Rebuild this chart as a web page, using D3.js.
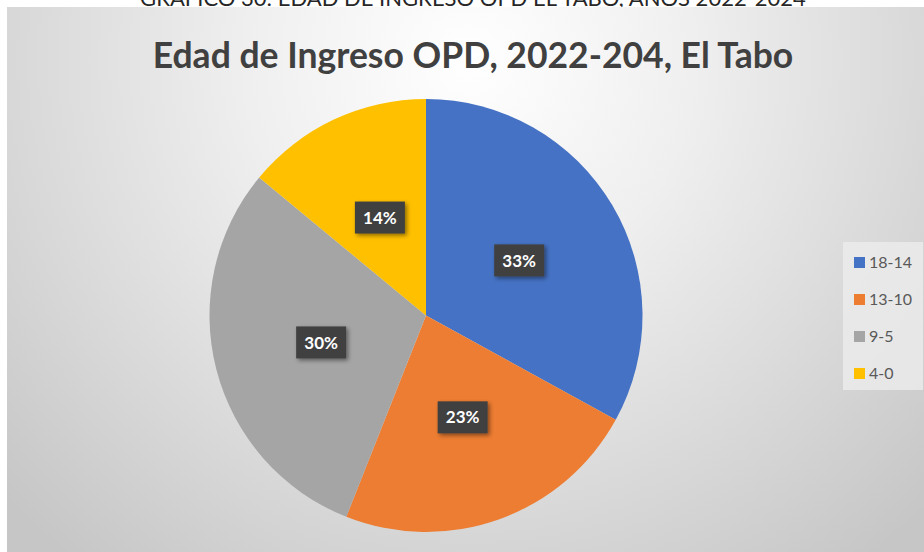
<!DOCTYPE html>
<html>
<head>
<meta charset="utf-8">
<script src="https://cdn.jsdelivr.net/npm/d3@7/dist/d3.min.js"></script>
<style>
  html, body { margin: 0; padding: 0; background: #ffffff; }
  svg { display: block; }
</style>
</head>
<body>
<svg id="chart" width="924" height="552"></svg>
<script>
// Age groups at intake and their share of cases (%)
const categories = ["18-14", "13-10", "9-5", "4-0"];
const shares = [33, 23, 30, 14];
const colors = ["#4472c4", "#ed7d31", "#a5a5a5", "#ffc000"];

const caption = "GRÁFICO 30: EDAD DE INGRESO OPD EL TABO, AÑOS 2022-2024";
const title = "Edad de Ingreso OPD, 2022-204, El Tabo";

const W = 924, H = 552;
const svg = d3.select("#chart");
const defs = svg.append("defs");

// Soft radial background of the chart area
const bg = defs.append("radialGradient")
  .attr("id", "bgGrad")
  .attr("gradientUnits", "userSpaceOnUse")
  .attr("cx", 470).attr("cy", 60).attr("r", 640);
bg.append("stop").attr("offset", "0").attr("stop-color", "#ffffff");
bg.append("stop").attr("offset", "0.35").attr("stop-color", "#efefef");
bg.append("stop").attr("offset", "1").attr("stop-color", "#c6c6c6");

const shadow = defs.append("filter").attr("id", "lblShadow")
  .attr("x", "-30%").attr("y", "-30%").attr("width", "160%").attr("height", "160%");
shadow.append("feDropShadow").attr("dx", 2).attr("dy", 2).attr("stdDeviation", 2)
  .attr("flood-color", "#000").attr("flood-opacity", 0.45);

const soft = defs.append("filter").attr("id", "soft");
soft.append("feGaussianBlur").attr("stdDeviation", 0.5);

// Caption line above the chart box (its upper part runs past the top edge)
svg.append("text")
  .attr("x", 473).attr("y", 6)
  .attr("text-anchor", "middle")
  .attr("font-family", "Lato, 'Open Sans', sans-serif")
  .attr("font-size", 22)
  .attr("fill", "#262626")
  .text(caption);

// Chart area
svg.append("rect")
  .attr("x", 7).attr("y", 7).attr("width", W - 7).attr("height", H - 7)
  .attr("fill", "url(#bgGrad)");

// Title
svg.append("text")
  .attr("x", 473).attr("y", 68)
  .attr("text-anchor", "middle")
  .attr("font-family", "Lato, 'Open Sans', sans-serif")
  .attr("font-weight", 700)
  .attr("font-size", 35.5)
  .attr("fill", "#404040")
  .text(title);

// Pie
const cx = 426, cy = 315.5, radius = 216.5;
const data = categories.map((c, i) => ({ cat: c, value: shares[i], color: colors[i] }));
const pie = d3.pie().sort(null).value(d => d.value);
const arc = d3.arc().innerRadius(0).outerRadius(radius);
const arcs = pie(data);

const g = svg.append("g").attr("transform", `translate(${cx},${cy})`);
g.selectAll("path.slice")
  .data(arcs)
  .join("path")
  .attr("class", "slice")
  .attr("d", arc)
  .attr("fill", d => d.data.color)
  .attr("filter", "url(#soft)");

// Value labels in dark callout boxes
const labelArc = d3.arc().innerRadius(0).outerRadius(radius);
const lbl = g.selectAll("g.lbl")
  .data(arcs)
  .join("g")
  .attr("class", "lbl")
  .attr("transform", d => {
    const [x, y] = labelArc.centroid(d);
    return `translate(${x},${y})`;
  });
lbl.append("rect")
  .attr("x", -25).attr("y", -16).attr("width", 50).attr("height", 32)
  .attr("fill", "#404040")
  .attr("filter", "url(#lblShadow)");
lbl.append("text")
  .attr("text-anchor", "middle")
  .attr("dy", "0.36em")
  .attr("font-family", "Lato, 'Open Sans', sans-serif")
  .attr("font-weight", 700)
  .attr("font-size", 17)
  .attr("fill", "#ffffff")
  .text(d => d.data.value + "%");

// Legend
const legend = svg.append("g");
legend.append("rect")
  .attr("x", 843).attr("y", 242).attr("width", 80).attr("height", 148)
  .attr("fill", "#ececec").attr("fill-opacity", 0.8);
const yLeg = d3.scalePoint().domain(categories).range([262, 373]);
const item = legend.selectAll("g.item")
  .data(data)
  .join("g")
  .attr("class", "item")
  .attr("transform", d => `translate(854,${yLeg(d.cat)})`);
item.append("rect")
  .attr("x", 0).attr("y", -5).attr("width", 11).attr("height", 11)
  .attr("fill", d => d.color);
item.append("text")
  .attr("x", 15).attr("dy", "0.36em")
  .attr("font-family", "Lato, 'Open Sans', sans-serif")
  .attr("font-size", 16)
  .attr("fill", "#595959")
  .text(d => d.cat);
</script>
</body>
</html>
